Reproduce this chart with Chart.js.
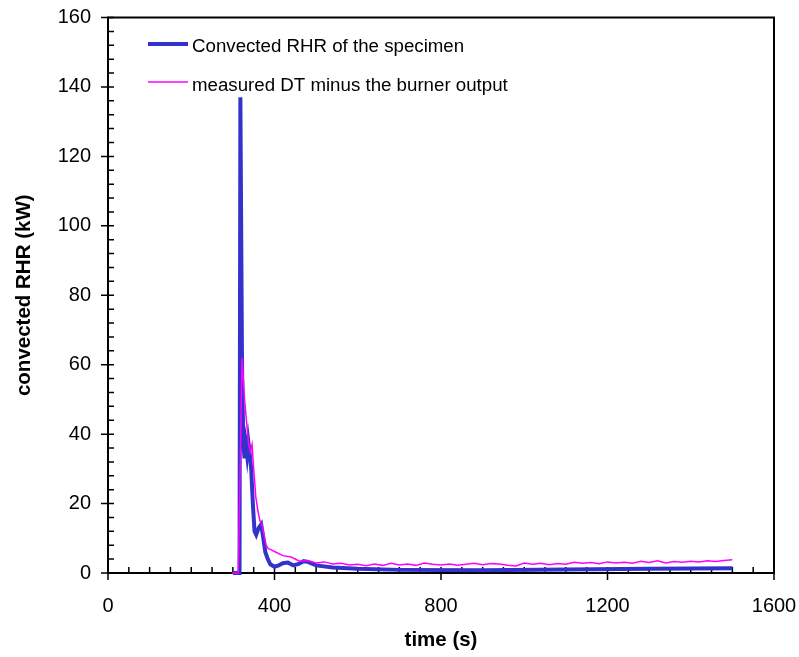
<!DOCTYPE html>
<html>
<head>
<meta charset="utf-8">
<script src="https://cdn.jsdelivr.net/npm/chart.js@4.4.0/dist/chart.umd.min.js"></script>
<style>
body{margin:0;background:#fff;}
#wrap{width:799px;height:657px;}
</style>
</head>
<body>
<div id="wrap"><canvas id="chart"></canvas></div>
<script>
// convected RHR of the specimen (blue)
var rhrTime = [300, 316, 318, 322, 325, 328, 331, 334, 337, 340, 344, 348, 352, 356, 362, 368, 372, 378, 384, 390, 400, 410, 420, 432, 445, 458, 470, 480, 500, 540, 600, 700, 900, 1100, 1300, 1500];
var rhrValue = [0, 0, 137, 60, 38, 33, 37, 34, 38, 35, 30, 20, 12, 11, 13, 14, 11, 6, 4, 2.5, 1.8, 2.2, 2.8, 3.0, 2.2, 2.6, 3.4, 3.2, 2.2, 1.6, 1.2, 0.9, 0.8, 1.0, 1.2, 1.4];

// measured DT minus the burner output (magenta)
var dtTime = [298, 313, 322, 328, 334, 338, 342, 346, 350, 355, 360, 365, 370, 375, 380, 385, 390,
  400, 420, 440, 460, 480, 500, 520, 540, 560, 580, 600, 620, 640, 660, 680, 700, 720, 740, 760, 780,
  800, 820, 840, 860, 880, 900, 920, 940, 960, 980, 1000, 1020, 1040, 1060, 1080, 1100, 1120, 1140, 1160, 1180,
  1200, 1220, 1240, 1260, 1280, 1300, 1320, 1340, 1360, 1380, 1400, 1420, 1440, 1460, 1480, 1500];
var dtValue = [0, 0, 62, 50, 42, 37, 35, 37, 30, 22, 18, 15, 14, 11, 8, 7, 6.8,
  6.2, 5.0, 4.6, 3.4, 3.6, 2.9, 3.2, 2.6, 2.8, 2.3, 2.5, 2.1, 2.6, 2.2, 2.8, 2.3, 2.6, 2.2, 2.9, 2.5,
  2.3, 2.6, 2.2, 2.5, 2.8, 2.4, 2.7, 2.6, 2.2, 2.0, 2.9, 2.5, 2.8, 2.4, 2.7, 2.5, 3.1, 2.8, 3.0, 2.7,
  3.2, 2.9, 3.1, 2.8, 3.4, 3.0, 3.5, 2.9, 3.3, 3.1, 3.4, 3.2, 3.5, 3.3, 3.6, 3.8];

var xTicks = [0, 400, 800, 1200, 1600];
var yTicks = [0, 20, 40, 60, 80, 100, 120, 140, 160];
var legendLabels = ['Convected RHR of the specimen', 'measured DT minus the burner output'];

var FONT = '"Liberation Sans", Arial, sans-serif';

function pairs(xs, ys) {
  return xs.map(function(x, i){ return {x: x, y: ys[i]}; });
}

// axes box + tick marks
var boxPlugin = {
  id: 'box',
  beforeDatasetsDraw: function(chart) {
    var ctx = chart.ctx, a = chart.chartArea, xs = chart.scales.x, ys = chart.scales.y;
    ctx.save();
    ctx.strokeStyle = '#000';
    ctx.lineWidth = 2;
    ctx.strokeRect(a.left, a.top, a.right - a.left, a.bottom - a.top);
    ctx.lineWidth = 1.5;
    ctx.beginPath();
    for (var v = 0; v <= 1600; v += 50) {
      var px = xs.getPixelForValue(v);
      ctx.moveTo(px, a.bottom - 6);
      ctx.lineTo(px, v % 400 == 0 ? a.bottom + 7 : a.bottom);
    }
    for (var w = 0; w <= 160; w += 4) {
      var py = ys.getPixelForValue(w);
      ctx.moveTo(w % 20 == 0 ? a.left - 7 : a.left, py);
      ctx.lineTo(a.left + 6, py);
    }
    ctx.stroke();
    ctx.restore();
  },
  afterDraw: function(chart) {
    var ctx = chart.ctx;
    ctx.save();
    ctx.font = '18.7px ' + FONT;
    ctx.fillStyle = '#000';
    ctx.textBaseline = 'alphabetic';
    ctx.lineWidth = 4;
    ctx.strokeStyle = '#3333cc';
    ctx.beginPath(); ctx.moveTo(148, 44); ctx.lineTo(188, 44); ctx.stroke();
    ctx.fillText(legendLabels[0], 192, 52);
    ctx.lineWidth = 1.5;
    ctx.strokeStyle = '#ff00ff';
    ctx.beginPath(); ctx.moveTo(148, 82); ctx.lineTo(188, 82); ctx.stroke();
    ctx.fillText(legendLabels[1], 192, 90.5);
    ctx.restore();
  }
};

function plain(v) { return String(v); }

new Chart(document.getElementById('chart'), {
  type: 'line',
  data: {
    datasets: [
      {
        label: legendLabels[0],
        data: pairs(rhrTime, rhrValue),
        borderColor: '#3333cc',
        borderWidth: 4,
        pointRadius: 0,
        tension: 0,
        clip: 6,
        order: 1
      },
      {
        label: legendLabels[1],
        data: pairs(dtTime, dtValue),
        borderColor: '#ff00ff',
        borderWidth: 1.5,
        pointRadius: 0,
        tension: 0,
        clip: 6,
        order: 0
      }
    ]
  },
  options: {
    responsive: true,
    maintainAspectRatio: false,
    animation: false,
    layout: { padding: { top: 17.5, right: 25, left: 0, bottom: 0 } },
    plugins: { legend: { display: false }, tooltip: { enabled: false } },
    scales: {
      x: {
        type: 'linear',
        min: 0,
        max: 1600,
        afterBuildTicks: function(s){ s.ticks = xTicks.map(function(v){ return {value: v}; }); },
        afterFit: function(s){ s.height = 84; s.paddingLeft = 0; s.paddingRight = 0; },
        grid: { display: false, drawTicks: false },
        border: { display: false },
        ticks: { color: '#000', font: { family: FONT, size: 20 }, padding: 21, maxRotation: 0, callback: plain },
        title: { display: true, text: 'time (s)', color: '#000', font: { family: FONT, size: 20.5, weight: 'bold' }, padding: { top: -3 } }
      },
      y: {
        type: 'linear',
        min: 0,
        max: 160,
        afterBuildTicks: function(s){ s.ticks = yTicks.map(function(v){ return {value: v}; }); },
        afterFit: function(s){ s.width = 108; s.paddingTop = 0; s.paddingBottom = 0; },
        grid: { display: false, drawTicks: false },
        border: { display: false },
        ticks: { color: '#000', font: { family: FONT, size: 20 }, padding: 17, callback: plain },
        title: { display: true, text: 'convected RHR (kW)', color: '#000', font: { family: FONT, size: 20.5, weight: 'bold' }, padding: { top: 12, bottom: 0 } }
      }
    }
  },
  plugins: [boxPlugin]
});
</script>
</body>
</html>
